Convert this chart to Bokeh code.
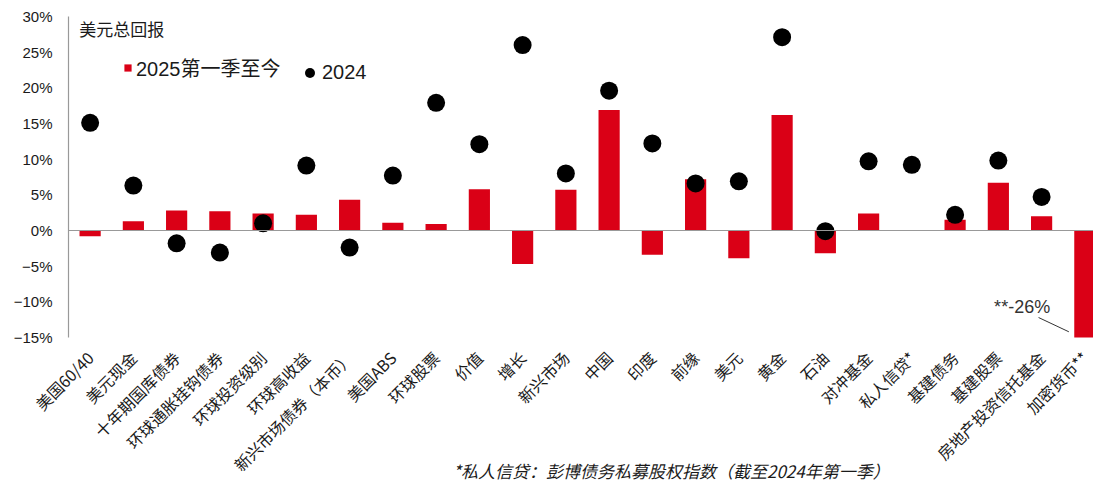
import math
import numpy as np
from bokeh.plotting import figure
from bokeh.models import (Range1d, FixedTicker, CustomJSTickFormatter, Span, Label,
                          Legend, LegendItem, ColumnDataSource)
from bokeh.embed import file_html
from bokeh.resources import INLINE

categories = ["美国60/40", "美元现金", "十年期国库债券", "环球通胀挂钩债券", "环球投资级别",
              "环球高收益", "新兴市场债券（本币）", "美国ABS", "环球股票", "价值", "增长",
              "新兴市场", "中国", "印度", "前缘", "美元", "黄金", "石油", "对冲基金",
              "私人信贷*", "基建债务", "基建股票", "房地产投资信托基金", "加密货币**"]
ytd_2025 = [-0.8, 1.3, 2.8, 2.7, 2.4, 2.2, 4.3, 1.1, 0.9, 5.8, -4.7, 5.7, 16.9, -3.4,
            7.2, -3.9, 16.2, -3.2, 2.4, float("nan"), 1.5, 6.7, 2.0, -26.0]
full_2024 = [15.1, 6.3, -1.8, -3.1, 1.0, 9.1, -2.4, 7.7, 17.9, 12.1, 26.0, 8.0, 19.6,
             12.2, 6.6, 6.9, 27.1, -0.1, 9.7, 9.2, 2.2, 9.8, 4.7, float("nan")]
y_ticks = [-15, -10, -5, 0, 5, 10, 15, 20, 25, 30]

FONT = "'Liberation Sans', 'Noto Sans CJK SC'"
CJK = "'Noto Sans CJK SC'"
RED = "#DA0016"

x = np.arange(len(categories)) + 0.5
src = ColumnDataSource(dict(x=x, cat=categories, ytd=ytd_2025, y24=full_2024))

p = figure(width=1093, height=488, output_backend="svg", toolbar_location=None,
           x_range=Range1d(0, 23.70), y_range=Range1d(-15, 30),
           min_border_left=68, min_border_right=0, min_border_top=16, min_border_bottom=151)
p.outline_line_color = None
p.xgrid.visible = False
p.ygrid.visible = False
p.background_fill_color = "white"
p.border_fill_color = "white"

bars = p.vbar(x="x", top="ytd", bottom=0, width=0.49, source=src, fill_color=RED, line_color=None)
dots = p.scatter(x="x", y="y24", size=18, source=src, fill_color="black", line_color=None)

p.add_layout(Span(location=0, dimension="width", line_color="#999999", line_width=1.2))

# y axis
ya = p.yaxis[0]
ya.ticker = FixedTicker(ticks=y_ticks)
ya.formatter = CustomJSTickFormatter(code="return (tick < 0 ? '\u2212' + Math.abs(tick) : tick) + '%';")
ya.major_tick_line_color = None
ya.minor_tick_line_color = None
ya.major_tick_out = 0
ya.major_tick_in = 0
ya.axis_line_color = "#999999"
ya.axis_line_width = 1.2
ya.major_label_standoff = 16
ya.major_label_text_font = FONT
ya.major_label_text_font_size = "15px"
ya.major_label_text_color = "#1a1a1a"

# x axis
xa = p.xaxis[0]
xa.ticker = FixedTicker(ticks=list(x))
xa.major_label_overrides = {float(v): c for v, c in zip(x, categories)}
xa.major_label_orientation = math.pi / 4
xa.axis_line_color = None
xa.major_tick_line_color = None
xa.minor_tick_line_color = None
xa.major_tick_out = 0
xa.major_tick_in = 0
xa.major_label_text_font = CJK
xa.major_label_text_font_size = "16px"
xa.major_label_text_color = "#1a1a1a"

# title inside plot
p.add_layout(Label(x=0.25, y=28.3, text="美元总回报", text_font=CJK, text_font_size="17px",
                   text_baseline="middle", text_color="#1a1a1a"))

# legends
leg_common = dict(orientation="horizontal", label_text_font=FONT, label_text_font_size="20px",
                  label_text_color="#1a1a1a", padding=0, margin=0, border_line_color=None,
                  background_fill_alpha=0, label_height=20)
legend1 = Legend(items=[LegendItem(label="2025第一季至今", renderers=[bars])],
                 location=(55, 255), glyph_width=9, glyph_height=9, label_standoff=4,
                 **leg_common)
legend2 = Legend(items=[LegendItem(label="2024", renderers=[dots])],
                 location=(229, 252), glyph_width=25, glyph_height=25, label_standoff=-6,
                 **leg_common)
p.add_layout(legend1, "center")
p.add_layout(legend2, "center")

# annotation for crypto
p.add_layout(Label(x=22.05, y=-10.7, text="**-26%", text_font=FONT, text_font_size="18px",
                   text_align="center", text_baseline="middle", text_color="#333333"))
p.line(x=[22.43, 23.13], y=[-12.2, -14.2], line_color="#333333", line_width=1)

# footnote: lives in the below panel (not clipped to the frame), positioned in data units.
footnote = Label(x=13.94, y=-33.6, text="*私人信贷：彭博债务私募股权指数（截至2024年第一季）",
                 text_font=CJK, text_font_size="17px", text_font_style="italic",
                 text_align="center", text_baseline="middle", text_color="#1a1a1a")
# put the footnote panel closest to the frame and pull the tick labels back up by its height
p.below = [footnote] + list(p.below)
xa.major_label_standoff = -8

open("out.html", "w").write(file_html(p, INLINE))
